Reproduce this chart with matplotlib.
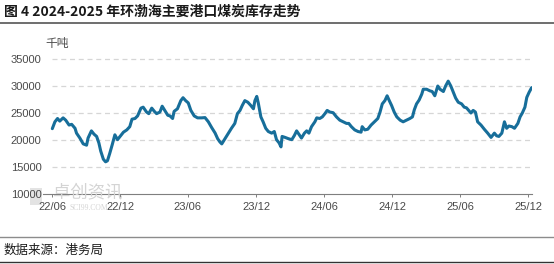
import matplotlib
matplotlib.use("Agg")
import matplotlib.pyplot as plt
import pandas as pd
from matplotlib.patches import Rectangle
from matplotlib.lines import Line2D

plt.rcParams['font.family'] = ['Noto Sans CJK SC', 'DejaVu Sans']

title = "图 4 2024-2025 年环渤海主要港口煤炭库存走势"
unit = "千吨"
source = "数据来源：港务局"

dates = [
    "2022-06-02", "2022-06-09", "2022-06-16", "2022-06-22", "2022-07-01", "2022-07-08", "2022-07-17",
    "2022-07-24", "2022-08-02", "2022-08-06", "2022-08-15", "2022-08-24", "2022-09-02", "2022-09-06",
    "2022-09-15", "2022-09-22", "2022-09-29", "2022-10-05", "2022-10-10", "2022-10-17", "2022-10-23",
    "2022-10-28", "2022-11-03", "2022-11-10", "2022-11-17", "2022-11-24", "2022-12-01", "2022-12-10",
    "2022-12-19", "2022-12-27", "2023-01-02", "2023-01-10", "2023-01-17", "2023-01-26", "2023-02-01",
    "2023-02-10", "2023-02-16", "2023-02-24", "2023-03-03", "2023-03-09", "2023-03-18", "2023-03-24",
    "2023-03-31", "2023-04-08", "2023-04-14", "2023-04-21", "2023-04-25", "2023-05-04", "2023-05-13",
    "2023-05-19", "2023-05-26", "2023-06-02", "2023-06-09", "2023-06-18", "2023-06-27", "2023-07-08",
    "2023-07-17", "2023-07-26", "2023-08-04", "2023-08-13", "2023-08-20", "2023-08-26", "2023-08-31",
    "2023-09-07", "2023-09-16", "2023-09-26", "2023-10-05", "2023-10-12", "2023-10-19", "2023-10-25",
    "2023-11-01", "2023-11-09", "2023-11-17", "2023-11-24", "2023-11-28", "2023-12-03", "2023-12-07",
    "2023-12-14", "2023-12-20", "2023-12-27", "2024-01-03", "2024-01-12", "2024-01-19", "2024-01-25",
    "2024-02-01", "2024-02-06", "2024-02-09", "2024-02-17", "2024-02-26", "2024-03-06", "2024-03-13",
    "2024-03-19", "2024-03-25", "2024-04-01", "2024-04-09", "2024-04-15", "2024-04-21", "2024-04-28",
    "2024-05-07", "2024-05-12", "2024-05-20", "2024-05-27", "2024-06-03", "2024-06-09", "2024-06-16",
    "2024-06-25", "2024-07-04", "2024-07-13", "2024-07-22", "2024-07-31", "2024-08-06", "2024-08-13",
    "2024-08-22", "2024-08-31", "2024-09-08", "2024-09-11", "2024-09-18", "2024-09-26", "2024-10-05",
    "2024-10-14", "2024-10-23", "2024-10-29", "2024-11-04", "2024-11-11", "2024-11-17", "2024-11-22",
    "2024-11-29", "2024-12-06", "2024-12-13", "2024-12-22", "2024-12-30", "2025-01-08", "2025-01-17",
    "2025-01-24", "2025-01-29", "2025-02-04", "2025-02-11", "2025-02-18", "2025-02-22", "2025-03-03",
    "2025-03-12", "2025-03-18", "2025-03-25", "2025-04-02", "2025-04-08", "2025-04-17", "2025-04-23",
    "2025-04-30", "2025-05-07", "2025-05-13", "2025-05-20", "2025-05-27", "2025-06-05", "2025-06-12",
    "2025-06-18", "2025-06-24", "2025-06-30", "2025-07-06", "2025-07-12", "2025-07-18", "2025-07-27",
    "2025-08-05", "2025-08-14", "2025-08-23", "2025-09-01", "2025-09-07", "2025-09-13", "2025-09-21",
    "2025-09-28", "2025-10-04", "2025-10-10", "2025-10-18", "2025-10-25", "2025-11-03", "2025-11-09",
    "2025-11-15", "2025-11-22", "2025-11-27", "2025-12-03", "2025-12-10",
]

values = [
    22100, 23370, 23980, 23500, 24100, 23670, 22770,
    22900, 22170, 21270, 20360, 19280, 19040, 20360,
    21690, 21080, 20660, 19460, 17950, 16450, 15960,
    16150, 17470, 19160, 20960, 20060, 20660, 21450,
    21870, 22470, 23860, 23980, 24460, 25900, 26080,
    25180, 24880, 25900, 25300, 24880, 25180, 26260,
    25480, 24580, 24460, 23980, 25300, 25780, 27290,
    27830, 27290, 26870, 25480, 24460, 24100, 24100,
    24150, 23370, 22290, 21300, 20240, 19640, 19280,
    20060, 21080, 22170, 23070, 24880, 25480, 26390,
    27290, 26990, 26390, 25780, 27290, 28070, 26870,
    24280, 23370, 22170, 21570, 21270, 21570, 20060,
    19460, 18730, 20660, 20480, 20240, 20060, 20840,
    21690, 21080, 20360, 21270, 21690, 21270, 22470,
    23370, 24100, 23980, 24280, 24880, 25480, 25180,
    25060, 24280, 23670, 23370, 23070, 23070, 22470,
    21870, 21570, 21450, 22470, 21870, 21990, 22770,
    23370, 23980, 25180, 26690, 27290, 28190, 27410,
    26390, 25180, 24280, 23670, 23370, 23670, 23980,
    24280, 25600, 26690, 27410, 28490, 29400, 29400,
    29100, 28980, 28190, 30000, 29400, 28980, 30000,
    30900, 30000, 28980, 27770, 26990, 26690, 26080,
    25960, 25480, 25000, 25480, 25180, 23370, 22770,
    21990, 21270, 20480, 21270, 20780, 20660, 21270,
    23370, 22170, 22590, 22470, 22170, 23070, 24280,
    25000, 26080, 27890, 28800, 29700,
]

tick_dates = ["2022-06-01", "2022-12-01", "2023-06-01", "2023-12-01",
              "2024-06-01", "2024-12-01", "2025-06-01", "2025-12-01"]
tick_labels = ["22/06", "22/12", "23/06", "23/12", "24/06", "24/12", "25/06", "25/12"]
y_ticks = [10000, 15000, 20000, 25000, 30000, 35000]

W, H = 554, 264
fig = plt.figure(figsize=(W / 100, H / 100), dpi=100)

def fx(px):
    return px / W

def fy(py):
    return 1 - py / H

ax = fig.add_axes([fx(43), fy(194), fx(532) - fx(43), fy(59) - fy(194)])

x = pd.to_datetime(dates)
x_left = pd.Timestamp("2022-05-08")
x_right = pd.Timestamp("2025-12-11")

# watermark (behind everything)
fig.add_artist(Rectangle((fx(30), fy(205)), fx(12), fy(188) - fy(205),
                         facecolor="#dcdcdc", edgecolor="none", alpha=0.8, zorder=0))
fig.text(fx(53), fy(192), "卓创资讯", fontsize=12.5, color="#d4d4d4", va="center",
         ha="left", zorder=0)
fig.text(fx(69), fy(208), "SCI99.COM", fontsize=5.5, color="#d4d4d4", va="center",
         ha="left", zorder=0, family=["Liberation Serif", "DejaVu Serif"])

# dashed grid lines starting at data start
for yv in y_ticks[1:]:
    ax.plot([x[0], x_right], [yv, yv], color="#d6d6d6", lw=0.9,
            dashes=(4, 3), zorder=1, clip_on=False)

ax.plot(x, values, color="#176e9a", lw=2.2, solid_joinstyle="round",
        solid_capstyle="round", zorder=3)

ax.set_xlim(x_left, x_right)
ax.set_ylim(10000, 35000)
ax.set_yticks(y_ticks)
ax.set_yticklabels([str(v) for v in y_ticks])
ax.set_xticks(pd.to_datetime(tick_dates))
ax.set_xticklabels(tick_labels)
ax.patch.set_alpha(0)

for s in ["top", "right", "left"]:
    ax.spines[s].set_visible(False)
ax.spines["bottom"].set_color("#7f7f7f")
ax.spines["bottom"].set_linewidth(0.8)

ax.tick_params(axis="y", length=0, pad=1, labelsize=8, labelcolor="#4a4a4a")
ax.tick_params(axis="x", length=2.5, width=0.7, color="#7f7f7f", pad=3,
               labelsize=8, labelcolor="#4a4a4a", direction="out")
for lab in ax.get_xticklabels() + ax.get_yticklabels():
    lab.set_family(["Liberation Sans", "DejaVu Sans"])

# unit label
fig.text(fx(45), fy(44), unit, fontsize=8.5, color="#4a4a4a", va="center", ha="left")

# title and rule
fig.text(fx(4), fy(12), title, fontsize=10, fontweight="bold", color="#1a1a1a",
         va="center", ha="left")
fig.add_artist(Line2D([0, 1], [fy(23), fy(23)], color="#555555", lw=1.2))

# source footer
fig.add_artist(Line2D([0, 1], [fy(237), fy(237)], color="#8c8c8c", lw=1.0))
fig.text(fx(4), fy(250), source, fontsize=9, color="#1a1a1a", va="center", ha="left")
fig.add_artist(Line2D([0, 1], [fy(262), fy(262)], color="#333333", lw=1.0))

fig.savefig("out.png", dpi=100)
